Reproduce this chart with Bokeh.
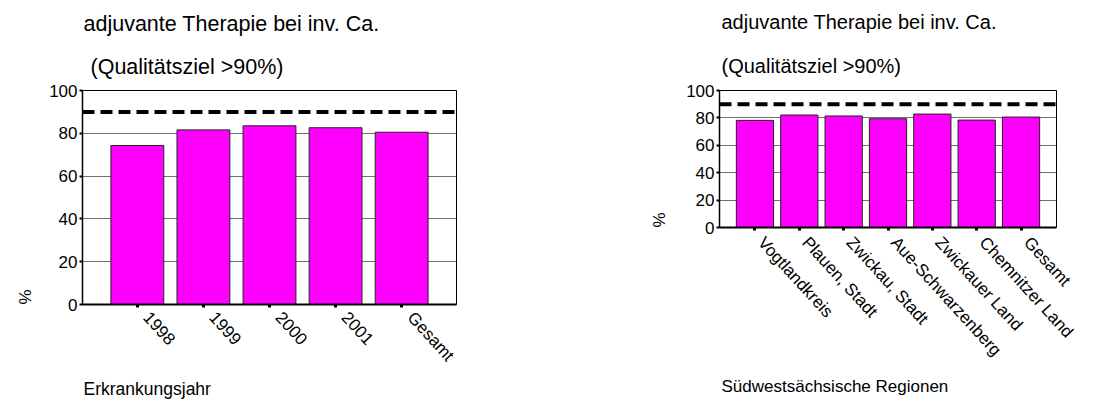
import math
from jinja2 import Template
from bokeh.plotting import figure
from bokeh.models import Range1d, Span, Title, FixedTicker, LinearAxis, ColumnDataSource
from bokeh.embed import file_html
from bokeh.resources import INLINE

# ---- data ----
years = ["1998", "1999", "2000", "2001", "Gesamt"]
year_values = [74.3, 81.6, 83.5, 82.6, 80.5]

regions = ["Vogtlandkreis", "Plauen, Stadt", "Zwickau, Stadt", "Aue-Schwarzenberg",
           "Zwickauer Land", "Chemnitzer Land", "Gesamt"]
region_values = [78.2, 82.1, 81.4, 79.4, 82.8, 78.4, 80.6]

quality_goal = 90
y_ticks = [0, 20, 40, 60, 80, 100]

title_line1 = "adjuvante Therapie bei inv. Ca."
title_line2 = "(Qualitätsziel >90%)"
y_label = "%"
x_label_left = "Erkrankungsjahr"
x_label_right = "Südwestsächsische Regionen"

FONT = "Liberation Sans"
LABEL_ANGLE = -0.83


def make_chart(cats, vals, xlabel, border, pad, bar_w, shift_px, lab_stand, title_px, xl_px,
               t1_stand, t2_stand, t1_off, t2_off, pct_stand, xl_stand, xl_off):
    left, right, top, bottom = border
    n = len(cats)
    pos = list(range(n))
    start, end = -0.5 - pad, n - 0.5 + pad
    fw = 560 - left - right
    pitch = fw / (end - start)
    s = shift_px / pitch

    p = figure(width=560, height=401, output_backend="svg", toolbar_location=None,
               x_range=Range1d(start, end), y_range=Range1d(0, 100),
               min_border_left=left, min_border_right=right,
               min_border_top=top, min_border_bottom=bottom)
    p.extra_x_ranges = {"lbl": Range1d(start - s, end - s)}
    p.background_fill_color = "white"
    p.border_fill_color = "white"
    p.outline_line_color = "black"
    p.outline_line_width = 1

    src = ColumnDataSource(dict(x=pos, val=vals))
    p.vbar(x="x", top="val", width=bar_w, source=src, fill_color="#FF00FF",
           line_color="#222222", line_width=1)

    p.add_layout(Span(location=quality_goal, dimension="width", line_color="black",
                      line_width=4, line_dash="12 6"))

    p.xgrid.grid_line_color = None
    p.ygrid.grid_line_color = "#707070"
    p.ygrid.grid_line_width = 1

    p.yaxis.ticker = FixedTicker(ticks=y_ticks)
    p.yaxis.minor_tick_line_color = None
    p.yaxis.major_tick_in = 0
    p.yaxis.major_tick_out = 3
    p.yaxis.major_tick_line_width = 2
    p.yaxis.axis_line_color = "black"
    p.yaxis.axis_line_width = 1.5
    p.yaxis.major_label_text_font = FONT
    p.yaxis.major_label_text_font_size = "17px"
    p.yaxis.major_label_text_color = "black"
    p.yaxis.major_label_standoff = 2

    # main x axis: line + tick marks only
    p.xaxis.ticker = FixedTicker(ticks=pos)
    p.xaxis.major_label_overrides = {i: "" for i in pos}
    p.xaxis.major_label_text_font_size = "0px"
    p.xaxis.major_label_text_color = None
    p.xaxis.major_label_standoff = 0
    p.xaxis.minor_tick_line_color = None
    p.xaxis.major_tick_in = 0
    p.xaxis.major_tick_out = 3
    p.xaxis.major_tick_line_width = 3
    p.xaxis.axis_line_width = 2
    p.xaxis.axis_line_color = "black"

    # label axis (category names, rotated)
    lab = LinearAxis(x_range_name="lbl", ticker=FixedTicker(ticks=pos),
                     major_label_overrides={i: c for i, c in enumerate(cats)},
                     axis_line_color=None, major_tick_line_color=None,
                     minor_tick_line_color=None, major_tick_in=0, major_tick_out=0,
                     major_label_orientation=LABEL_ANGLE, major_label_standoff=lab_stand,
                     major_label_text_font=FONT, major_label_text_font_size="17px",
                     major_label_text_color="black")
    p.add_layout(lab, "below")

    # x axis title
    p.add_layout(Title(text=xlabel, align="left", offset=xl_off, standoff=xl_stand,
                       text_font=FONT, text_font_size=xl_px, text_font_style="normal",
                       text_color="black"), "below")

    # y axis title
    p.add_layout(Title(text=y_label, align="left", offset=0, standoff=pct_stand,
                       text_font=FONT, text_font_size="17px", text_font_style="normal",
                       text_color="black"), "left")

    # two-line title (second line closest to the plot)
    p.add_layout(Title(text=title_line2, align="left", offset=t2_off, standoff=t2_stand,
                       text_font=FONT, text_font_size=title_px, text_font_style="normal",
                       text_color="black"), "above")
    p.add_layout(Title(text=title_line1, align="left", offset=t1_off, standoff=t1_stand,
                       text_font=FONT, text_font_size=title_px, text_font_style="normal",
                       text_color="black"), "above")
    return p


p1 = make_chart(years, year_values, x_label_left, (82, 104, 90, 97), 0.33, 0.8, 9, 7,
                "21.5px", "17.5px", 9.5, 23.5, 1, 8, 24, 4, 1)
p2 = make_chart(regions, region_values, x_label_right, (159, 64, 90, 173), 0.3, 0.84, 6, 9,
                "20px", "17px", 13, 27, 2, 2, 29, 12, 2)

template = Template("""{% extends base %}
{% block postamble %}<style>html, body { margin: 0; padding: 0; } body { display: flex !important; flex-direction: row; align-items: flex-start; }</style>{% endblock %}""")

open("out.html", "w").write(file_html([p1, p2], INLINE, template=template))
